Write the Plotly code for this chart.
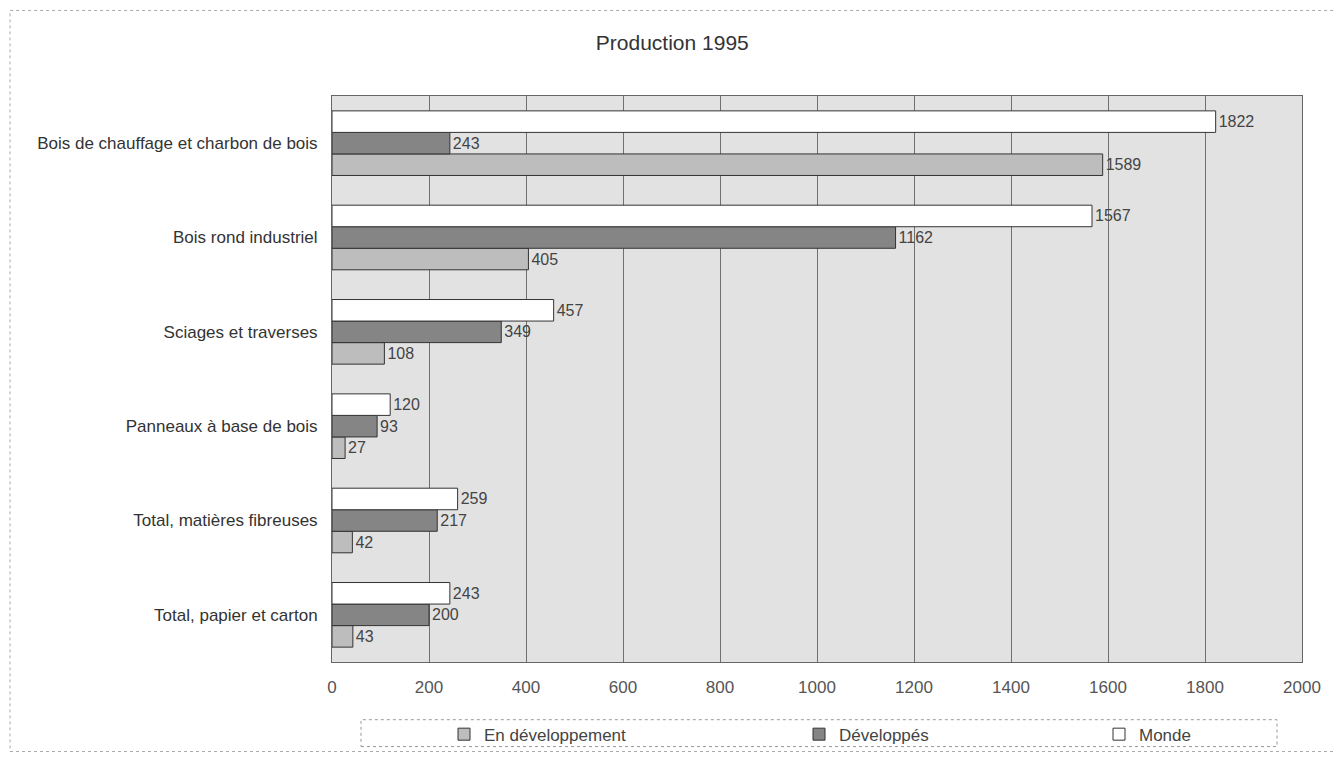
import plotly.graph_objects as go

categories = ["Bois de chauffage et charbon de bois", "Bois rond industriel",
              "Sciages et traverses", "Panneaux à base de bois",
              "Total, matières fibreuses", "Total, papier et carton"]
en_developpement = [1589, 405, 108, 27, 42, 43]
developpes = [243, 1162, 349, 93, 217, 200]
monde = [1822, 1567, 457, 120, 259, 243]
x_ticks = [0, 200, 400, 600, 800, 1000, 1200, 1400, 1600, 1800, 2000]

FONT = "Liberation Sans, Arial, sans-serif"

series = [
    ("En développement", en_developpement, "#bdbdbd", "legend"),
    ("Développés", developpes, "#858585", "legend2"),
    ("Monde", monde, "#ffffff", "legend3"),
]

# screen -> paper helpers (plot area: x 332..1302, y 96..665 on screen)
PL, PW, PB, PH = 332.0, 970.0, 665.0, 569.0
def px(x):
    return (x - PL) / PW
def py(y):
    return (PB - y) / PH

fig = go.Figure()
for name, vals, col, leg in series:
    fig.add_trace(go.Bar(
        y=categories, x=vals, name=name, orientation="h", legend=leg,
        showlegend=True,
        marker=dict(color=col, line=dict(color="#333333", width=1)),
        text=[str(v) for v in vals], textposition="outside",
        textfont=dict(family=FONT, size=16, color="#444444"),
        cliponaxis=False,
    ))

leg_common = dict(orientation="h", yanchor="middle", y=py(738), xanchor="left",
                  borderwidth=0, bgcolor="rgba(0,0,0,0)", visible=True,
                  font=dict(family=FONT, size=17, color="#444444"))

fig.update_layout(
    width=1342, height=757, showlegend=True,
    paper_bgcolor="white", plot_bgcolor="#e2e2e2",
    barmode="group", bargap=0.315, bargroupgap=0,
    margin=dict(l=324, r=48, t=88, b=100),
    title=dict(text="Production 1995", x=0.495, xref="container", xanchor="center",
               y=1 - 35 / 757, yref="container", yanchor="middle",
               font=dict(family=FONT, size=21, color="#333333")),
    font=dict(family=FONT, size=17, color="#444444"),
    xaxis=dict(range=[0, 2000], tickvals=x_ticks, showgrid=True, gridcolor="#707070",
               gridwidth=1, zeroline=False, showline=True, mirror=True, linecolor="#666666",
               ticks="outside", ticklen=10, tickcolor="rgba(0,0,0,0)",
               tickfont=dict(family=FONT, size=17, color="#555555")),
    yaxis=dict(categoryorder="array", categoryarray=categories[::-1],
               showline=True, mirror=True, linecolor="#666666", ticks="outside", ticklen=10,
               tickcolor="rgba(0,0,0,0)", showgrid=False,
               tickfont=dict(family=FONT, size=17, color="#333333")),
    legend=dict(x=px(444), **leg_common),
    legend2=dict(x=px(799), **leg_common),
    legend3=dict(x=px(1099), **leg_common),
    shapes=[
        dict(type="rect", xref="paper", yref="paper",
             x0=px(361), x1=px(1277), y0=py(750), y1=py(723),
             line=dict(color="#999999", width=1, dash="dot")),
        dict(type="rect", xref="paper", yref="paper",
             x0=px(10), x1=px(1336), y0=py(755), y1=py(10),
             line=dict(color="#aaaaaa", width=1, dash="dot")),
    ],
)

fig.write_html("out.html")
